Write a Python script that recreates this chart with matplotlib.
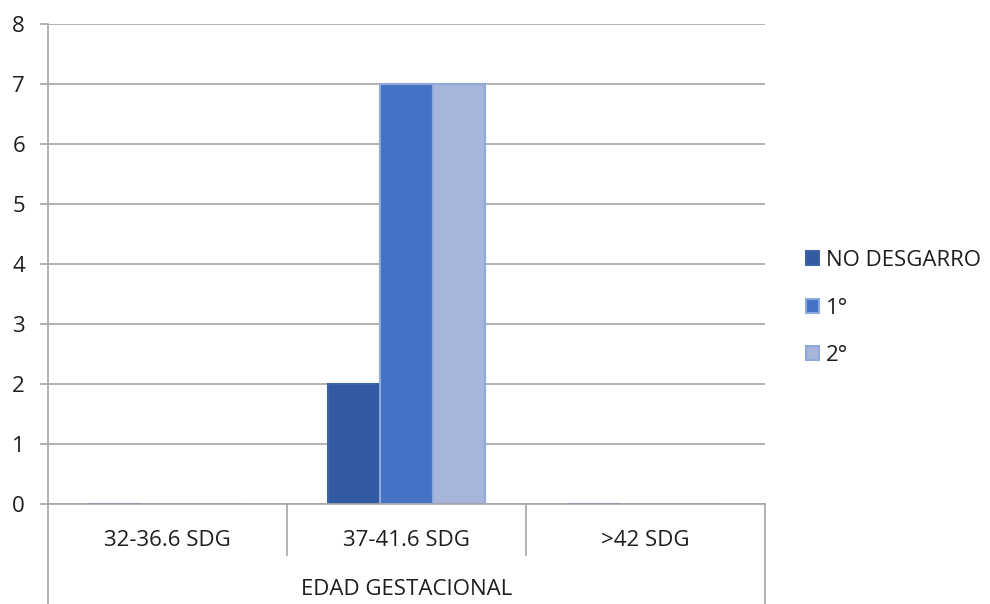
import numpy as np
import matplotlib.pyplot as plt

plt.rcParams['font.family'] = ['Open Sans', 'DejaVu Sans']

categorias = ["32-36.6 SDG", "37-41.6 SDG", ">42 SDG"]
series = ["NO DESGARRO", "1°", "2°"]
no_desgarro = [0, 2, 0]
primer_grado = [0, 7, 0]
segundo_grado = [0, 7, 0]
eje_titulo = "EDAD GESTACIONAL"

colores = ["#335AA1", "#4472C4", "#A8B5DA"]
bordes = ["#3D63A8", "#8EA9DB", "#8EA9DB"]
gris = "#A6A6A6"
texto = "#1E1E1E"

fig = plt.figure(figsize=(9.9, 6.04), dpi=100)
ax = fig.add_axes([48/990, 100/604, 717/990, 480/604])

x = np.arange(len(categorias))
w = 0.218
valores = [no_desgarro, primer_grado, segundo_grado]
handles = []
for i, (vals, nombre) in enumerate(zip(valores, series)):
    b = ax.bar(x + (i - 1) * w, vals, w, color=colores[i], edgecolor=bordes[i],
               linewidth=1.5, label=nombre, zorder=3)
    handles.append(b)

ax.set_xlim(-0.5, len(categorias) - 0.5)
ax.set_ylim(0, 8)
ax.set_yticks(range(0, 9))
ax.yaxis.grid(True, color=gris, linewidth=1.2)
ax.set_axisbelow(True)
for s in ["top", "right", "bottom"]:
    ax.spines[s].set_visible(False)
ax.spines["left"].set_color(gris)
ax.spines["left"].set_linewidth(1.2)
ax.tick_params(axis="y", direction="out", length=5.5, width=1.2, color=gris,
               pad=11, labelsize=16, labelcolor=texto)
ax.set_xticks([])

# cajas del eje de categorias
tr = ax.get_xaxis_transform()
ax.plot([-0.5, 2.5], [0, 0], transform=tr, color=gris, lw=1.2, clip_on=False, zorder=4)
for xv in [-0.5, 2.5]:
    ax.plot([xv, xv], [0, -0.21], transform=tr, color=gris, lw=1.2, clip_on=False)
for xv in [0.5, 1.5]:
    ax.plot([xv, xv], [0, -0.106], transform=tr, color=gris, lw=1.2, clip_on=False)
for xi, c in zip(x, categorias):
    ax.text(xi, -0.077, c, transform=tr, ha="center", va="center",
            fontsize=16, color=texto)
ax.text(1, -0.179, eje_titulo, transform=tr, ha="center", va="center",
        fontsize=16, color=texto)

leg = fig.legend(handles=handles, labels=series, loc="center left",
                 bbox_to_anchor=(786/990, 1 - 308/604), frameon=False,
                 fontsize=16, handlelength=0.6, handleheight=0.6,
                 handletextpad=0.3, labelspacing=1.2)
for t in leg.get_texts():
    t.set_color(texto)

fig.savefig("out.png", dpi=100)
